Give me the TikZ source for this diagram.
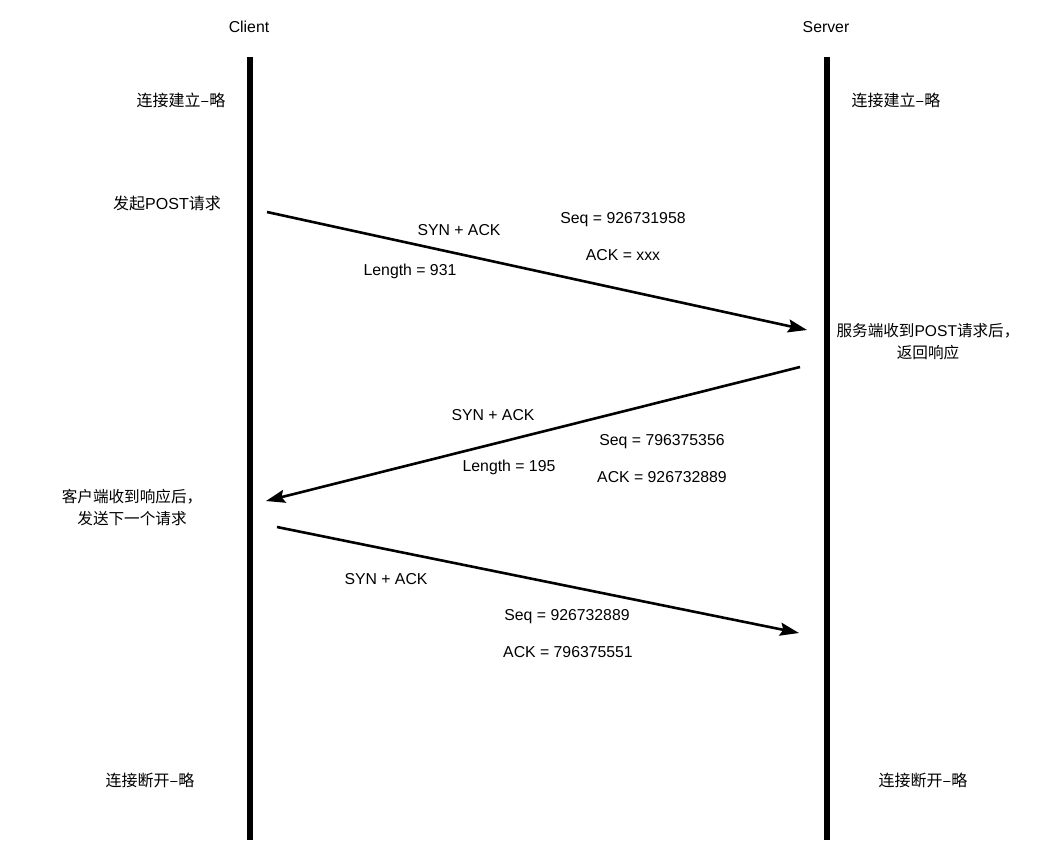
\documentclass[tikz,border=0pt]{standalone}
\usepackage{fontspec}
\setmainfont{Liberation Sans}
\newfontfamily\cjk{Noto Sans CJK SC}
\usetikzlibrary{arrows.meta}
\begin{document}
\begin{tikzpicture}[x=1pt,y=-1pt,
  lbl/.style={font=\fontsize{15.8}{18}\selectfont, inner sep=0pt, align=center},
  cj/.style={font=\fontsize{16}{22}\selectfont\cjk, inner sep=0pt, align=center},
  cjs/.style={font=\fontsize{15.6}{22}\selectfont\cjk, inner sep=0pt, align=center},
  life/.style={line width=6pt},
  msg/.style={line width=2.6pt, -{Stealth[length=19pt,width=13pt,inset=3pt]}}]
\useasboundingbox (0,0) rectangle (1062,855);
% lifelines
\coordinate (ct) at (250,57); \coordinate (cb) at (250,840);
\coordinate (st) at (827,57); \coordinate (sb) at (827,840);
\draw[life] (ct) -- (cb);
\draw[life] (st) -- (sb);
\node[lbl] (client) at (249,27) {Client};
\node[lbl] (server) at (826,27) {Server};
\node[cj] (c1) at (181,100) {连接建立–略};
\node[cj] (s1) at (896,100) {连接建立–略};
\node[cj] (post) at (167,203) {发起{\rmfamily POST}请求};
% message 1
\coordinate (m1a) at (267,212); \coordinate (m1b) at (807,330);
\draw[msg] (m1a) -- (m1b);
\node[lbl] (syn1) at (459,230) {SYN + ACK};
\node[lbl] (len1) at (410,271) {Length = 931};
\node[lbl] (seq1) at (623,220) {Seq = 926731958};
\node[lbl] (ack1) at (623,255) {ACK = xxx};
\node[cjs] (srv) at (928,342) {服务端收到{\rmfamily POST}请求后，\\返回响应};
% message 2
\coordinate (m2a) at (800,367); \coordinate (m2b) at (266,501);
\draw[msg] (m2a) -- (m2b);
\node[lbl] (syn2) at (493,415) {SYN + ACK};
\node[lbl] (seq2) at (662,442) {Seq = 796375356};
\node[lbl] (len2) at (509,467) {Length = 195};
\node[lbl] (ack2) at (662,477) {ACK = 926732889};
\node[cjs] (cli) at (132,508) {客户端收到响应后，\\发送下一个请求};
% message 3
\coordinate (m3a) at (277,527); \coordinate (m3b) at (799,633);
\draw[msg] (m3a) -- (m3b);
\node[lbl] (syn3) at (386,579) {SYN + ACK};
\node[lbl] (seq3) at (567,617) {Seq = 926732889};
\node[lbl] (ack3) at (568,652) {ACK = 796375551};
\node[cj] (c2) at (150,780) {连接断开–略};
\node[cj] (s2) at (923,780) {连接断开–略};
\end{tikzpicture}
\end{document}
